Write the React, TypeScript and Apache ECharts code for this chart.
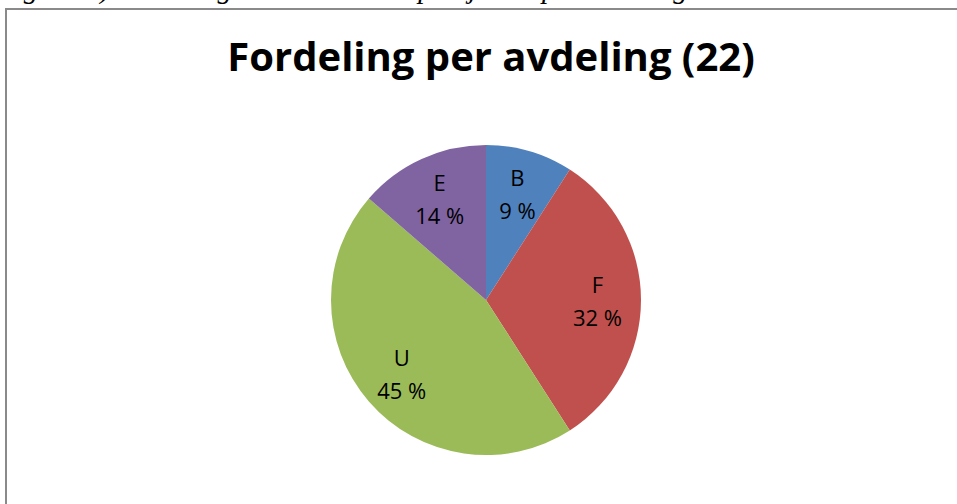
import React, { useEffect, useRef } from "react";
import * as echarts from "echarts";

const categories = ["B", "F", "U", "E"];
const values = [2, 7, 10, 3];
const colors = ["#4F81BD", "#C0504D", "#9BBB59", "#8064A2"];
const titleText = "Fordeling per avdeling (22)";
const captionText = "Figur 30) Fordeling av antall FOU-prosjekter per avdeling";

export default function App() {
  const ref = useRef<HTMLDivElement>(null);
  useEffect(() => {
    document.body.style.margin = "0";
    const chart = echarts.init(ref.current!, null, { renderer: "svg" });
    const data = categories.map((c, i) => ({
      name: c,
      value: values[i],
      itemStyle: { color: colors[i] },
    }));
    chart.setOption({
      animation: false,
      backgroundColor: "#ffffff",
      title: {
        text: titleText,
        left: 486,
        textAlign: "center",
        top: 30,
        textStyle: {
          fontFamily: "Open Sans",
          fontWeight: "bold",
          fontSize: 40,
          color: "#000000",
        },
      },
      graphic: [
        {
          type: "rect",
          shape: { x: 6, y: 9, width: 1000, height: 600 },
          style: { fill: "none", stroke: "#8a8a8a", lineWidth: 2 },
          z: 0,
        },
        {
          type: "text",
          x: -2,
          y: 2,
          style: {
            text: captionText,
            fontFamily: "Liberation Serif",
            fontStyle: "italic",
            fontSize: 29,
            fill: "#000000",
            verticalAlign: "bottom",
          },
        },
      ],
      series: [
        {
          type: "pie",
          center: [486, 300],
          radius: [0, 155],
          startAngle: 90,
          clockwise: true,
          silent: true,
          label: { show: false },
          labelLine: { show: false },
          itemStyle: { borderWidth: 0 },
          data,
        },
        {
          type: "pie",
          center: [486, 300],
          radius: [62, 155],
          startAngle: 90,
          clockwise: true,
          silent: true,
          itemStyle: { color: "rgba(0,0,0,0)", borderWidth: 0 },
          label: {
            show: true,
            position: "inside",
            color: "#000000",
            fontFamily: "Open Sans",
            fontSize: 22,
            lineHeight: 33,
            formatter: (p: any) => `${p.name}\n${Math.round(p.percent)} %`,
          },
          labelLine: { show: false },
          data: categories.map((c, i) => ({ name: c, value: values[i] })),
        },
      ],
    });
    return () => chart.dispose();
  }, []);
  return <div ref={ref} style={{ width: 957, height: 504 }} />;
}
